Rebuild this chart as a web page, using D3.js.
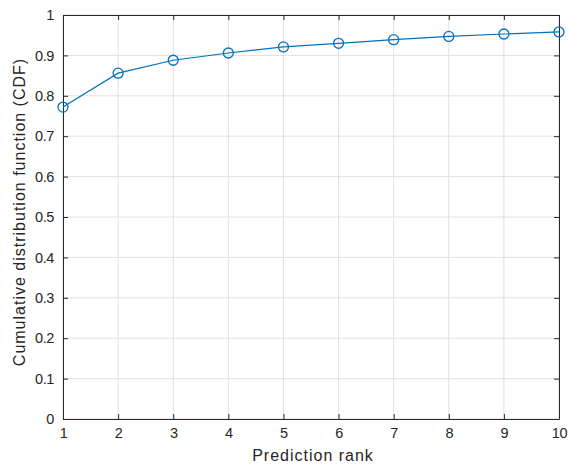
<!DOCTYPE html>
<html>
<head>
<meta charset="utf-8">
<script src="https://cdn.jsdelivr.net/npm/d3@7"></script>
<style>
  body { margin: 0; background: #fff; }
  text { font-family: "Liberation Sans", Arial, sans-serif; fill: #262626; }
</style>
</head>
<body>
<svg id="chart" width="568" height="466"></svg>
<script>
const ranks = [1, 2, 3, 4, 5, 6, 7, 8, 9, 10];
const cdf = [0.772, 0.856, 0.888, 0.906, 0.921, 0.930, 0.939, 0.947, 0.953, 0.958];
const yTicks = [0, 0.1, 0.2, 0.3, 0.4, 0.5, 0.6, 0.7, 0.8, 0.9, 1];

const m = { left: 63, top: 15, right: 559, bottom: 419 };
const svg = d3.select('#chart');

const x = d3.scaleLinear().domain([1, 10]).range([m.left, m.right]);
const y = d3.scaleLinear().domain([0, 1]).range([m.bottom, m.top]);

// grid
const grid = svg.append('g').attr('stroke', '#e0e0e0').attr('stroke-width', 1);
grid.selectAll('.gx').data(ranks).join('line')
  .attr('x1', (d) => x(d)).attr('x2', (d) => x(d))
  .attr('y1', m.top).attr('y2', m.bottom);
grid.selectAll('.gy').data(yTicks).join('line')
  .attr('x1', m.left).attr('x2', m.right)
  .attr('y1', (d) => y(d)).attr('y2', (d) => y(d));

const fmt = (d) => (d === 0 || d === 1 ? String(d) : d3.format('.1f')(d));

function styleAxis(g) {
  g.select('.domain').attr('stroke', '#262626');
  g.selectAll('.tick line').attr('stroke', '#262626');
  g.selectAll('.tick text').attr('fill', '#262626')
    .style('font-family', '"Liberation Sans", Arial, sans-serif')
    .style('font-size', '14.5px')
    .style('letter-spacing', '-0.4px');
}

svg.append('g').attr('transform', `translate(0,${m.bottom})`)
  .call(d3.axisBottom(x).tickValues(ranks).tickSize(-5).tickSizeOuter(0).tickPadding(9).tickFormat(d3.format('d')))
  .call(styleAxis);
svg.append('g').attr('transform', `translate(${m.left},0)`)
  .call(d3.axisLeft(y).tickValues(yTicks).tickSize(-5).tickSizeOuter(0).tickPadding(9).tickFormat(fmt))
  .call(styleAxis);
svg.append('g').attr('transform', `translate(0,${m.top})`)
  .call(d3.axisTop(x).tickValues(ranks).tickSize(-5).tickSizeOuter(0).tickFormat(''))
  .call(styleAxis);
svg.append('g').attr('transform', `translate(${m.right},0)`)
  .call(d3.axisRight(y).tickValues(yTicks).tickSize(-5).tickSizeOuter(0).tickFormat(''))
  .call(styleAxis);

// line + markers
const line = d3.line().x((d, i) => x(ranks[i])).y((d) => y(d));
svg.append('path').datum(cdf)
  .attr('d', line).attr('fill', 'none').attr('stroke', '#0072BD').attr('stroke-width', 1.2);
svg.selectAll('.pt').data(cdf).join('circle')
  .attr('cx', (d, i) => x(ranks[i])).attr('cy', (d) => y(d)).attr('r', 5)
  .attr('fill', 'none').attr('stroke', '#0072BD').attr('stroke-width', 1.3);

// labels
svg.append('text').attr('x', 313).attr('y', 461)
  .attr('text-anchor', 'middle').style('font-size', '16px').style('letter-spacing', '1px')
  .text('Prediction rank');
svg.append('text').attr('transform', 'translate(25,212) rotate(-90)')
  .attr('text-anchor', 'middle').style('font-size', '16px').style('letter-spacing', '1px')
  .text('Cumulative distribution function (CDF)');
</script>
</body>
</html>
